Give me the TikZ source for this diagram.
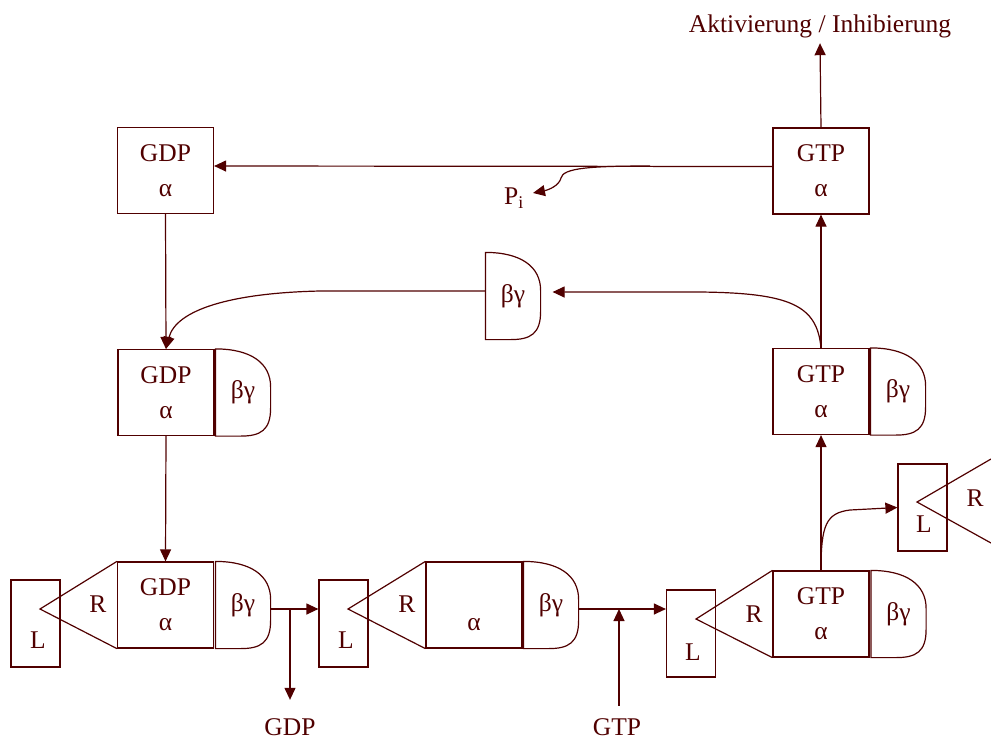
\documentclass[tikz,border=0pt]{standalone}
\usepackage{fontspec}
\setmainfont{Liberation Serif}
\usetikzlibrary{arrows.meta}
\definecolor{mar}{RGB}{80,0,0}
\newcommand\bgcap[1]{\draw (#1.north west) .. controls ([xshift=-20pt]#1.north east) and ([yshift=-14pt]#1.north east) .. ([yshift=-38pt]#1.north east) -- ([yshift=28pt]#1.south east) .. controls ([yshift=6pt]#1.south east) and ([xshift=-10pt]#1.south east) .. ([xshift=-30pt]#1.south east) -- (#1.south west) -- cycle;}
\begin{document}
\begin{tikzpicture}[x=1pt,y=-1pt,line width=1.2pt,color=mar,
  font=\fontsize{25.5}{30}\selectfont,
  box/.style={draw, minimum width=96pt, minimum height=86pt, inner sep=0pt, align=center, font=\fontsize{25.5}{35}\selectfont},
  bgn/.style={minimum width=54pt, minimum height=86pt, inner sep=0pt},
  lbox/.style={draw, minimum width=49pt, minimum height=87pt, inner sep=0pt},
  lbl/.style={inner sep=0pt},
  arr/.style={-{Triangle[length=12pt,width=11pt]}}]
\useasboundingbox (0,0) rectangle (991,740);
% boxes
\node[box] (T1) at (165.5,170.5) {GDP\\α};
\node[box] (T2) at (821,171) {GTP\\α};
\node[box] (M1) at (166,392.5) {GDP\\α};
\node[bgn] (M1g) at (243,392.5) {βγ};
\node[box] (M2) at (821,391.5) {GTP\\α};
\node[bgn] (M2g) at (898,391.5) {βγ};
\node[box] (B1) at (165.5,605) {GDP\\α};
\node[bgn] (B1g) at (243,605) {βγ};
\node[box] (B2) at (474,605) {\phantom{G}\\α};
\node[bgn] (B2g) at (551,605) {βγ};
\node[box] (B3) at (821,614) {GTP\\α};
\node[bgn] (B3g) at (898.5,614) {βγ};
\node[bgn] (F) at (513,296) {βγ};
\bgcap{M1g}\bgcap{M2g}\bgcap{B1g}\bgcap{B2g}\bgcap{B3g}\bgcap{F}
% ligand boxes
\node[lbox] (L1) at (35.5,623.5) {};
\node[lbox] (L2) at (343.5,623.5) {};
\node[lbox] (L3) at (691,633.5) {};
\node[lbox] (L4) at (922.5,507.5) {};
\node[lbl] (L1t) at (38,640) {L};
\node[lbl] (L2t) at (346,640) {L};
\node[lbl] (L3t) at (693,652) {L};
\node[lbl] (L4t) at (924,524) {L};
\node[lbl] (R1t) at (98,604) {R};
\node[lbl] (R2t) at (407,604) {R};
\node[lbl] (R3t) at (754,614) {R};
\node[lbl] (R4t) at (975,498) {R};
% receptor triangles
\coordinate (A1) at (40,609);
\coordinate (A2) at (348,609);
\coordinate (A3) at (696,619);
\coordinate (A4) at (917,502);
\coordinate (A4u) at (991,459);
\coordinate (A4d) at (991,543);
\draw (B1.north west) -- (A1) -- (B1.south west);
\draw (B2.north west) -- (A2) -- (B2.south west);
\draw (B3.north west) -- (A3) -- (B3.south west);
\draw (A4u) -- (A4) -- (A4d);
% labels
\node[lbl] (akt) at (820,26) {Aktivierung / Inhibierung};
\node[lbl] (Pi) at (514,198) {P\textsubscript{i}};
\node[lbl] (GDPt) at (290,727) {GDP};
\node[lbl] (GTPt) at (617,727) {GTP};
% arrows
\draw[arr] (T2.north) -- ([yshift=-5pt]akt.south);
\draw[arr] ([yshift=4.5pt]T2.west) -- ([yshift=4.5pt]T1.east);
\coordinate (pis) at (650,166);
\coordinate (pit) at (533,193);
\draw[arr] (pis) .. controls (590,166) and (563,168) .. (561,178) .. controls (559,186) and (548,190) .. (pit);
\draw[arr] (M2.north) .. controls (817,305) and (790,293) .. (700,292) -- ([xshift=12pt,yshift=4pt]F.east);
\draw[arr] ([yshift=5pt]F.west) -- (320,291) .. controls (230,293) and (176,310) .. (M1.north);
\draw[arr] (T1.south) -- (M1.north);
\draw[arr] (M1.south) -- (B1.north);
\draw[arr] (M2.north) -- (T2.south);
\draw[arr] (B3.north) -- (M2.south);
\draw[arr] (B3.north) .. controls (821,525) and (826,513) .. (850,510) -- (L4.west);
\coordinate (e1) at ([yshift=-4pt]B1g.east);
\coordinate (e2) at ([yshift=-4pt]B2g.east);
\draw[arr] (e1) -- (e1 -| L2.west);
\draw[arr] (e2) -- (e2 -| L3.west);
\coordinate (gd) at (290,609);
\coordinate (gt) at (619,609);
\draw[arr] (gd) -- ([yshift=18pt]GDPt.north);
\draw[arr] ([yshift=12pt,xshift=2pt]GTPt.north) -- (gt);
\end{tikzpicture}
\end{document}
